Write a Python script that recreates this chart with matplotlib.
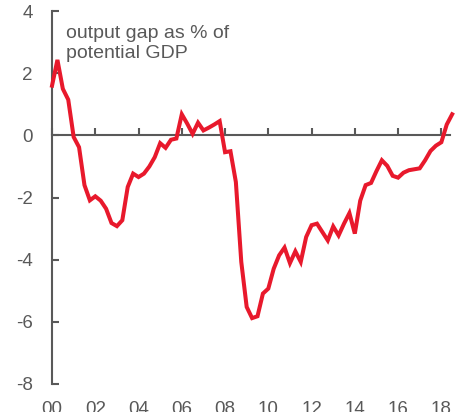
import numpy as np
import matplotlib
matplotlib.use('Agg')
import matplotlib.pyplot as plt

# Output gap, quarterly, 2000Q1 - 2018Q3
years = 2000 + np.arange(75) / 4
gap = [1.6, 2.43, 1.5, 1.15,
       -0.05, -0.38, -1.6, -2.09,
       -1.96, -2.1, -2.36, -2.82,
       -2.92, -2.73, -1.66, -1.23,
       -1.34, -1.23, -1.0, -0.7,
       -0.25, -0.4, -0.14, -0.1,
       0.68, 0.38, 0.05, 0.41,
       0.16, 0.25, 0.35, 0.46,
       -0.54, -0.51, -1.5, -4.07,
       -5.52, -5.88, -5.82, -5.09,
       -4.93, -4.29, -3.86, -3.61,
       -4.11, -3.73, -4.07, -3.27,
       -2.89, -2.84, -3.11, -3.38,
       -2.93, -3.22, -2.84, -2.5,
       -3.16, -2.1, -1.6, -1.53,
       -1.15, -0.8, -0.98, -1.3,
       -1.36, -1.2, -1.12, -1.09,
       -1.06, -0.8, -0.5, -0.33,
       -0.22, 0.35, 0.68]
xticks = np.arange(2000, 2019, 2)
xlabels = ['00', '02', '04', '06', '08', '10', '12', '14', '16', '18']
yticks = [-8, -6, -4, -2, 0, 2, 4]

grey = '#595959'
red = '#E8192C'
plt.rcParams['font.family'] = ['Liberation Sans', 'DejaVu Sans']

fig = plt.figure(figsize=(4.62, 4.12), dpi=100)
ax = fig.add_axes([0.1126, 0.068, 0.974 - 0.1126, 0.973 - 0.068])

ax.plot(years, gap, color=red, lw=2.9, clip_on=False, zorder=3,
        solid_joinstyle='miter')

ax.set_xlim(2000, 2018.4)
ax.set_ylim(-8, 4)

for s in ['top', 'right']:
    ax.spines[s].set_visible(False)
ax.spines['left'].set_color(grey)
ax.spines['left'].set_linewidth(1.5)
ax.spines['bottom'].set_position(('data', 0))
ax.spines['bottom'].set_color(grey)
ax.spines['bottom'].set_linewidth(1.5)

ax.set_xticks(xticks)
ax.tick_params(axis='x', direction='in', length=5, width=1.5, color=grey,
               labelbottom=False)
ax.set_yticks(yticks)
ax.set_yticklabels([str(v) for v in yticks])
ax.tick_params(axis='y', direction='in', length=5, width=1.5, color=grey,
               labelcolor=grey, labelsize=13.5, pad=14)

sec = ax.secondary_xaxis(0)
sec.set_xticks(xticks)
sec.set_xticklabels(xlabels)
sec.spines['bottom'].set_visible(False)
sec.tick_params(length=0, pad=12, labelcolor=grey, labelsize=13.5)

ax.text(0.035, 0.962, 'output gap as % of\npotential GDP', transform=ax.transAxes,
        ha='left', va='top', fontsize=14, color=grey, linespacing=1.2)

fig.savefig('out.png', dpi=100)
